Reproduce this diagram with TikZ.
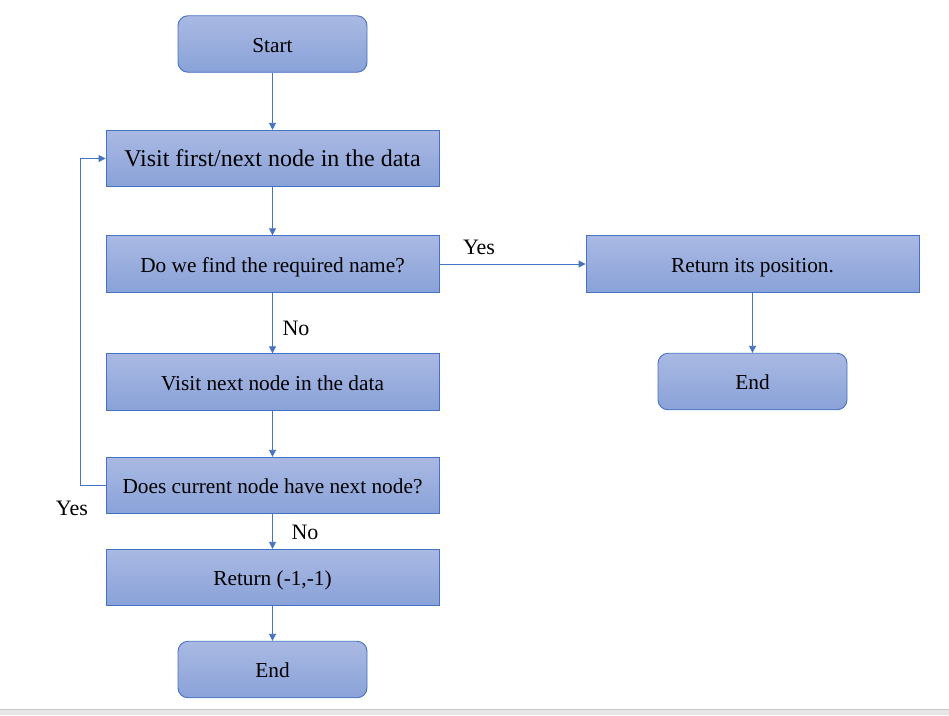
\documentclass[tikz,border=0pt]{standalone}
\usepackage{fontspec}
\setmainfont{Liberation Serif}
\usetikzlibrary{arrows.meta}
\definecolor{bordc}{RGB}{68,114,196}
\definecolor{topc}{RGB}{170,185,227}
\definecolor{botc}{RGB}{137,162,216}
\definecolor{stripc}{RGB}{230,230,230}
\definecolor{stripl}{RGB}{200,200,200}
\tikzset{
  boxbase/.style={draw=bordc, line width=0.9pt, top color=topc, bottom color=botc, inner sep=0pt, text height=20.2pt, text depth=3.6pt, text=black, font=\fontsize{21.3}{24}\selectfont},
  procbox/.style={boxbase, minimum width=333pt, minimum height=56.5pt},
  termbox/.style={boxbase, rounded corners=10pt, minimum width=189pt, minimum height=56.5pt},
  conn/.style={draw=bordc, line width=0.9pt, -{Triangle[width=7pt,length=7pt]}},
  lbl/.style={font=\fontsize{22}{24}\selectfont, text=black, inner sep=0pt}
}
\begin{document}
\begin{tikzpicture}[x=1pt,y=-1pt]
\useasboundingbox (0,0) rectangle (949,715);
\fill[white] (0,0) rectangle (949,715);
\fill[stripc] (0,709) rectangle (949,715);
\draw[stripl, line width=1pt] (0,709.5) -- (949,709.5);

\node[termbox] (start) at (272.5,44) {Start};
\node[procbox, font=\fontsize{24}{27}\selectfont] (visit1) at (272.5,158.5) {Visit first/next node in the data};
\node[procbox] (find) at (272.5,264) {Do we find the required name?};
\node[procbox] (visit2) at (272.5,382) {Visit next node in the data};
\node[procbox] (has) at (272.5,485.5) {Does current node have next node?};
\node[procbox] (retm) at (272.5,577.5) {Return (-1,-1)};
\node[termbox] (end1) at (272.5,669.5) {End};
\node[procbox] (retpos) at (752.5,264) {Return its position.};
\node[termbox] (end2) at (752.5,381.5) {End};

\coordinate (loopb) at (80,485.5);
\coordinate (loopt) at (80,158.5);

\draw[conn] (start) -- (visit1);
\draw[conn] (visit1) -- (find);
\draw[conn] (find) -- (visit2);
\draw[conn] (visit2) -- (has);
\draw[conn] (has) -- (retm);
\draw[conn] (retm) -- (end1);
\draw[conn] (find) -- (retpos);
\draw[conn] (retpos) -- (end2);
\draw[conn] (has.west) -- (loopb) -- (loopt) -- (visit1.west);

\node[lbl] (yes1) at (479,247) {Yes};
\node[lbl] (no1) at (296,328.5) {No};
\node[lbl] (no2) at (305,532.5) {No};
\node[lbl] (yes2) at (72,508.5) {Yes};
\end{tikzpicture}
\end{document}
